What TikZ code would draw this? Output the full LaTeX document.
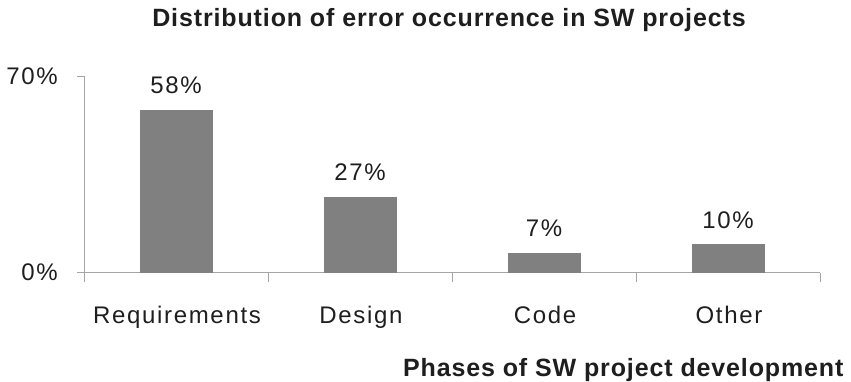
\documentclass[tikz,border=0pt]{standalone}
\usepackage{fontspec}
\setmainfont{Liberation Sans}
\newfontfamily\chartFont[LetterSpace=7]{Liberation Sans}
\newfontfamily\headFont[LetterSpace=3.5]{Liberation Sans}
\usetikzlibrary{positioning}
\definecolor{barGray}{RGB}{128,128,128}
\definecolor{axisGray}{RGB}{165,165,165}
\definecolor{textDark}{RGB}{30,30,30}
\newcommand{\labelFont}{\chartFont\fontsize{24}{28}\selectfont}
\newcommand{\titleFont}{\headFont\fontsize{25}{30}\selectfont\bfseries}

\begin{document}
\begin{tikzpicture}[x=1pt, y=-1pt,
    bar/.style={fill=barGray, draw=none},
    axis/.style={draw=axisGray, line width=1pt},
    value/.style={anchor=base, inner sep=0pt, font=\labelFont, text=textDark},
    category/.style={anchor=base, inner sep=0pt, font=\labelFont, text=textDark},
    ticklabel/.style={anchor=east, inner sep=0pt, font=\labelFont, text=textDark}]
    \useasboundingbox (0,0) rectangle (851,381);
    % title
    \node[font=\titleFont, text=textDark, anchor=base] (title) at (449,26) {Distribution of error occurrence in SW projects};
    % axes
    \draw[axis] (77,76) -- (84,76) -- (84,282);
    \draw[axis] (77,272.5) -- (820,272.5);
    \draw[axis] (268,272.5) -- (268,282);
    \draw[axis] (452,272.5) -- (452,282);
    \draw[axis] (636,272.5) -- (636,282);
    \draw[axis] (820,272.5) -- (820,282);
    \node[ticklabel] (top) at (58,76) {70\%};
    \node[ticklabel] (zero) at (58,272.5) {0\%};
    % bars
    \fill[bar] (139.5,272.5) rectangle (212.5,109.7);
    \fill[bar] (323.5,272.5) rectangle (396.5,196.7);
    \fill[bar] (507.5,272.5) rectangle (580.5,252.8);
    \fill[bar] (691.5,272.5) rectangle (764.5,244.4);
    \node[value] (reqval) at (176,93) {58\%};
    \node[value] (desval) at (360,180) {27\%};
    \node[value] (codval) at (544,236) {7\%};
    \node[value] (othval) at (728,228) {10\%};
    % categories
    \node[category] (req) at (177,323) {Requirements};
    \node[category] (des) at (361,323) {Design};
    \node[category] (cod) at (545,323) {Code};
    \node[category] (oth) at (729,323) {Other};
    \node[font=\titleFont, text=textDark, anchor=base east] (phases) at (847,376) {Phases of SW project development};
\end{tikzpicture}
\end{document}
